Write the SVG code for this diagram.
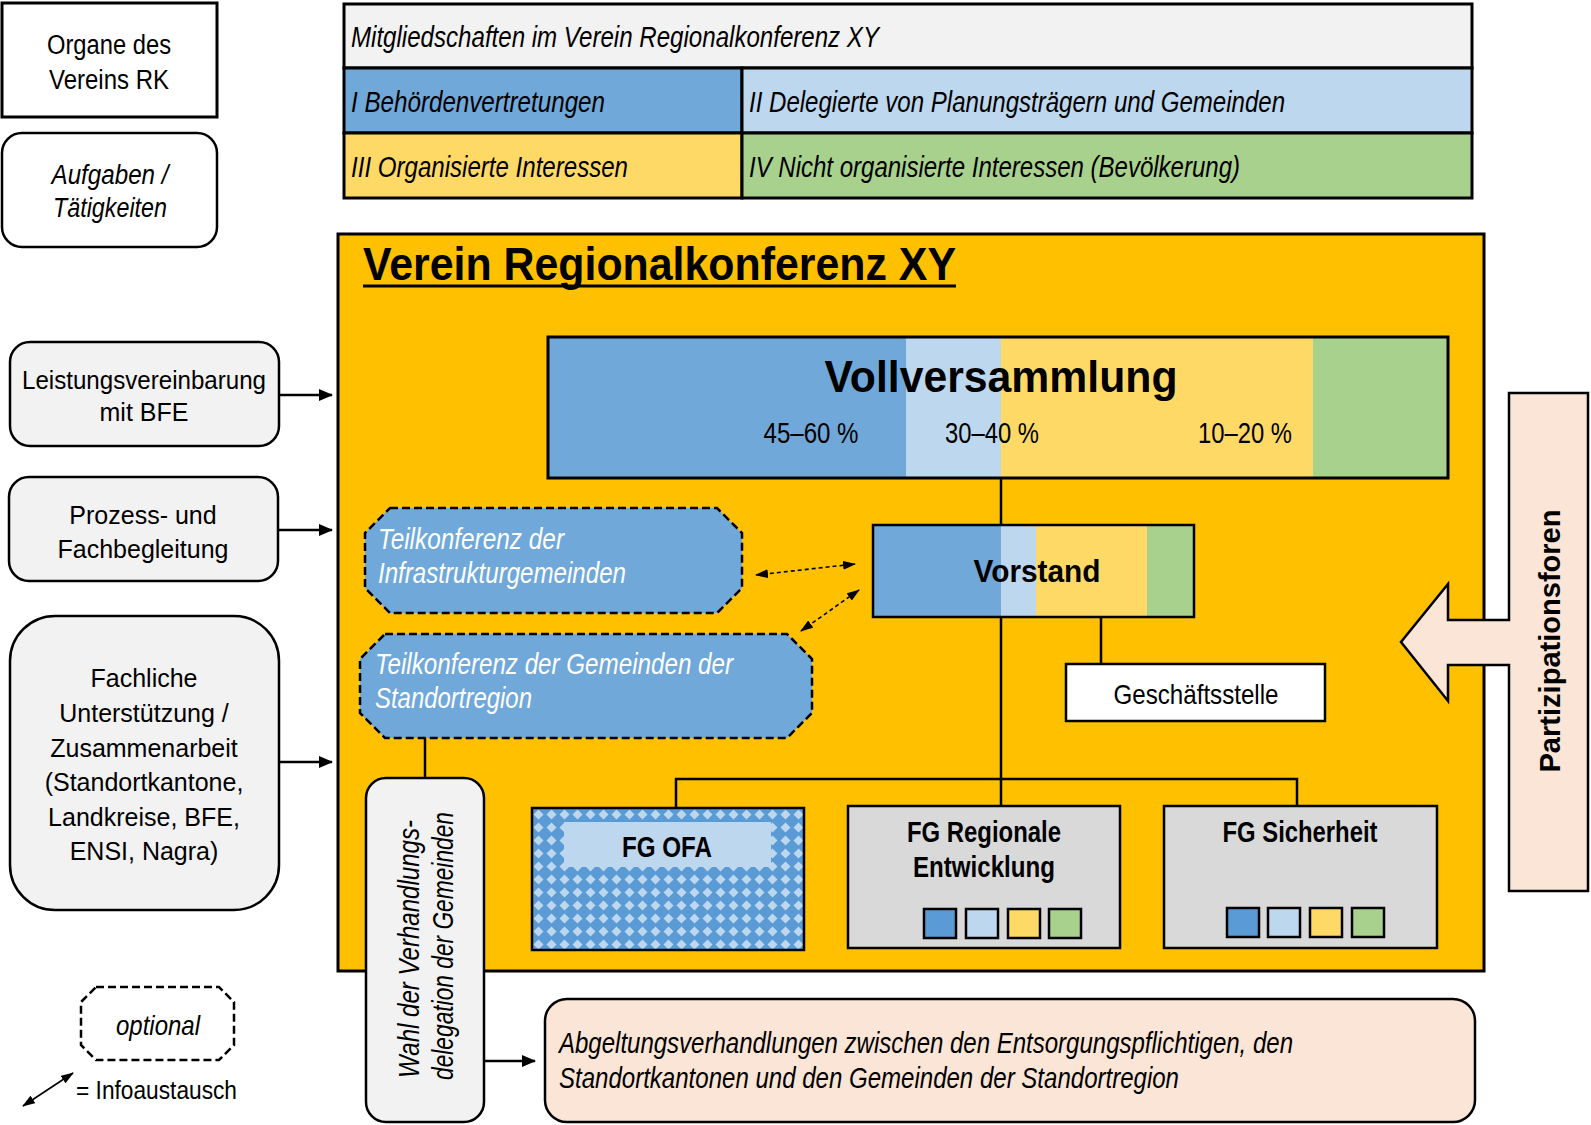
<svg xmlns="http://www.w3.org/2000/svg" width="1591" height="1125" viewBox="0 0 1591 1125">
<style>
.n{font-family:"Liberation Sans Narrow","Liberation Sans",Arial,sans-serif}
.s{font-family:"Liberation Sans",Arial,sans-serif}
.i{font-style:italic}
.b{font-weight:bold}
.bx{stroke:#000;stroke-width:2.5}
.tb{stroke:#000;stroke-width:3}
.ln{stroke:#000;stroke-width:2.5;fill:none}
.dl{stroke:#000;stroke-width:1.6;fill:none;stroke-dasharray:4 3}
.dash{stroke:#000;stroke-width:2.5;stroke-dasharray:8 4}
.c{text-anchor:middle}
</style>
<defs>
<marker id="ah" viewBox="0 0 14 12" refX="13" refY="6" markerWidth="14" markerHeight="12" markerUnits="userSpaceOnUse" orient="auto"><path d="M0,0 L14,6 L0,12 z" fill="#000"/></marker>
<marker id="ah2" viewBox="0 0 13 9" refX="12" refY="4.5" markerWidth="13" markerHeight="9" markerUnits="userSpaceOnUse" orient="auto-start-reverse"><path d="M0,0 L13,4.5 L0,9 z" fill="#000"/></marker>
<pattern id="dia" width="13" height="13" patternUnits="userSpaceOnUse" x="532" y="808"><rect width="13" height="13" fill="#5B9BD5"/><path d="M6.5,1.5 L11.5,6.5 L6.5,11.5 L1.5,6.5 z" fill="#BDD7EE"/></pattern>
</defs>
<rect width="1591" height="1125" fill="#fff"/>

<g id="legend-organe">
<rect x="2" y="3" width="215" height="114" fill="#fff" class="tb"/>
<text x="109" y="54" class="n c" font-size="27" textLength="124" lengthAdjust="spacingAndGlyphs">Organe des</text>
<text x="109" y="89" class="n c" font-size="27" textLength="120" lengthAdjust="spacingAndGlyphs">Vereins RK</text>
</g>
<g id="legend-aufgaben">
<rect x="2" y="133" width="215" height="114" rx="20" fill="#fff" class="bx"/>
<text x="110" y="184" class="n i c" font-size="27" textLength="117" lengthAdjust="spacingAndGlyphs">Aufgaben /</text>
<text x="110" y="217" class="n i c" font-size="27" textLength="114" lengthAdjust="spacingAndGlyphs">Tätigkeiten</text>
</g>

<g id="mitgliedschaften">
<rect x="344" y="4" width="1128" height="64" fill="#F2F2F2" class="tb"/>
<rect x="344" y="68" width="398" height="65" fill="#70A8DA" class="tb"/>
<rect x="742" y="68" width="730" height="65" fill="#BDD7EE" class="tb"/>
<rect x="344" y="133" width="398" height="65" fill="#FFD966" class="tb"/>
<rect x="742" y="133" width="730" height="65" fill="#A9D18E" class="tb"/>
<text x="351" y="47" class="n i" font-size="29" textLength="528" lengthAdjust="spacingAndGlyphs">Mitgliedschaften im Verein Regionalkonferenz XY</text>
<text x="351" y="112" class="n i" font-size="29" textLength="254" lengthAdjust="spacingAndGlyphs">I Behördenvertretungen</text>
<text x="749" y="112" class="n i" font-size="29" textLength="536" lengthAdjust="spacingAndGlyphs">II Delegierte von Planungsträgern und Gemeinden</text>
<text x="351" y="177" class="n i" font-size="29" textLength="277" lengthAdjust="spacingAndGlyphs">III Organisierte Interessen</text>
<text x="749" y="177" class="n i" font-size="29" textLength="491" lengthAdjust="spacingAndGlyphs">IV Nicht organisierte Interessen (Bevölkerung)</text>
</g>

<g id="verein">
<rect x="338" y="234" width="1146" height="737" fill="#FFC000" class="tb"/>
<text x="363" y="280" class="n b" font-size="46" textLength="593" lengthAdjust="spacingAndGlyphs">Verein Regionalkonferenz XY</text>
<line x1="363" y1="286" x2="956" y2="286" stroke="#000" stroke-width="3"/>
</g>

<g id="connectors">
<line x1="1001" y1="478" x2="1001" y2="525" class="ln"/>
<line x1="1001" y1="617" x2="1001" y2="806" class="ln"/>
<polyline points="676,808 676,779 1297,779 1297,806" class="ln"/>
<line x1="1101" y1="617" x2="1101" y2="664" class="ln"/>
<line x1="425" y1="738" x2="425" y2="778" class="ln"/>
<line x1="279" y1="395" x2="332" y2="395" class="ln" marker-end="url(#ah)"/>
<line x1="278" y1="530" x2="332" y2="530" class="ln" marker-end="url(#ah)"/>
<line x1="279" y1="762" x2="332" y2="762" class="ln" marker-end="url(#ah)"/>
<line x1="484" y1="1061" x2="535" y2="1061" class="ln" marker-end="url(#ah)"/>
<line x1="756" y1="575" x2="855" y2="564" class="dl" marker-start="url(#ah2)" marker-end="url(#ah2)"/>
<line x1="801" y1="631" x2="859" y2="590" class="dl" marker-start="url(#ah2)" marker-end="url(#ah2)"/>
<line x1="23" y1="1106" x2="73" y2="1073" stroke="#000" stroke-width="1.6" marker-start="url(#ah2)" marker-end="url(#ah2)"/>
</g>

<g id="vollversammlung">
<rect x="548" y="337" width="358" height="141" fill="#70A8DA"/>
<rect x="906" y="337" width="95" height="141" fill="#BDD7EE"/>
<rect x="1001" y="337" width="312" height="141" fill="#FFD966"/>
<rect x="1313" y="337" width="135" height="141" fill="#A9D18E"/>
<rect x="548" y="337" width="900" height="141" fill="none" class="tb"/>
<text x="1001" y="392" class="s b c" font-size="45" textLength="353" lengthAdjust="spacingAndGlyphs">Vollversammlung</text>
<text x="811" y="443" class="n c" font-size="29" textLength="95" lengthAdjust="spacingAndGlyphs">45–60 %</text>
<text x="992" y="443" class="n c" font-size="29" textLength="94" lengthAdjust="spacingAndGlyphs">30–40 %</text>
<text x="1245" y="443" class="n c" font-size="29" textLength="94" lengthAdjust="spacingAndGlyphs">10–20 %</text>
</g>

<g id="vorstand">
<rect x="873" y="525" width="128" height="92" fill="#70A8DA"/>
<rect x="1001" y="525" width="35" height="92" fill="#BDD7EE"/>
<rect x="1036" y="525" width="111" height="92" fill="#FFD966"/>
<rect x="1147" y="525" width="47" height="92" fill="#A9D18E"/>
<rect x="873" y="525" width="321" height="92" fill="none" class="bx"/>
<text x="1037" y="582" class="s b c" font-size="31" textLength="127" lengthAdjust="spacingAndGlyphs">Vorstand</text>
</g>

<g id="geschaeftsstelle">
<rect x="1066" y="664" width="259" height="57" fill="#fff" class="bx"/>
<text x="1196" y="704" class="n c" font-size="28" textLength="165" lengthAdjust="spacingAndGlyphs">Geschäftsstelle</text>
</g>

<g id="tk-infrastruktur">
<polygon points="390,508 717,508 742,533 742,588 717,613 390,613 365,588 365,533" fill="#70A8DA" class="dash"/>
<text x="378" y="549" class="n i" font-size="29" fill="#fff" textLength="186" lengthAdjust="spacingAndGlyphs">Teilkonferenz der</text>
<text x="378" y="583" class="n i" font-size="29" fill="#fff" textLength="248" lengthAdjust="spacingAndGlyphs">Infrastrukturgemeinden</text>
</g>

<g id="tk-standortregion">
<polygon points="385,634 787,634 812,659 812,713 787,738 385,738 360,713 360,659" fill="#70A8DA" class="dash"/>
<text x="375" y="674" class="n i" font-size="29" fill="#fff" textLength="358" lengthAdjust="spacingAndGlyphs">Teilkonferenz der Gemeinden der</text>
<text x="375" y="708" class="n i" font-size="29" fill="#fff" textLength="157" lengthAdjust="spacingAndGlyphs">Standortregion</text>
</g>

<g id="fg-ofa">
<rect x="532" y="808" width="272" height="142" fill="url(#dia)" class="bx"/>
<rect x="564" y="822" width="207" height="45" fill="#BDD7EE"/>
<text x="667" y="857" class="n b c" font-size="29" textLength="90" lengthAdjust="spacingAndGlyphs">FG OFA</text>
</g>

<g id="fg-regionale">
<rect x="848" y="806" width="272" height="142" fill="#D9D9D9" class="bx"/>
<text x="984" y="842" class="n b c" font-size="29" textLength="154" lengthAdjust="spacingAndGlyphs">FG Regionale</text>
<text x="984" y="877" class="n b c" font-size="29" textLength="142" lengthAdjust="spacingAndGlyphs">Entwicklung</text>
<rect x="924" y="909" width="32" height="29" fill="#5B9BD5" class="bx"/>
<rect x="966" y="909" width="32" height="29" fill="#BDD7EE" class="bx"/>
<rect x="1008" y="909" width="32" height="29" fill="#FFD966" class="bx"/>
<rect x="1049" y="909" width="32" height="29" fill="#A9D18E" class="bx"/>
</g>

<g id="fg-sicherheit">
<rect x="1164" y="806" width="273" height="142" fill="#D9D9D9" class="bx"/>
<text x="1300" y="842" class="n b c" font-size="29" textLength="155" lengthAdjust="spacingAndGlyphs">FG Sicherheit</text>
<rect x="1227" y="908" width="32" height="29" fill="#5B9BD5" class="bx"/>
<rect x="1268" y="908" width="32" height="29" fill="#BDD7EE" class="bx"/>
<rect x="1310" y="908" width="32" height="29" fill="#FFD966" class="bx"/>
<rect x="1352" y="908" width="32" height="29" fill="#A9D18E" class="bx"/>
</g>

<g id="partizipationsforen">
<polygon points="1509,393 1588,393 1588,891 1509,891 1509,665 1448,665 1448,701 1401,642 1448,584 1448,620 1509,620" fill="#FBE5D6" class="bx"/>
<text transform="translate(1560,641) rotate(-90)" class="s b c" font-size="29" textLength="263" lengthAdjust="spacingAndGlyphs">Partizipationsforen</text>
</g>

<g id="leistungsvereinbarung">
<rect x="10" y="342" width="269" height="104" rx="20" fill="#F2F2F2" class="bx"/>
<text x="144" y="389" class="s c" font-size="25" textLength="244" lengthAdjust="spacingAndGlyphs">Leistungsvereinbarung</text>
<text x="144" y="421" class="s c" font-size="25">mit BFE</text>
</g>
<g id="prozessbegleitung">
<rect x="9" y="477" width="269" height="104" rx="20" fill="#F2F2F2" class="bx"/>
<text x="143" y="524" class="s c" font-size="25">Prozess- und</text>
<text x="143" y="558" class="s c" font-size="25">Fachbegleitung</text>
</g>
<g id="fachliche-unterstuetzung">
<rect x="10" y="616" width="269" height="294" rx="45" fill="#F2F2F2" class="bx"/>
<text x="144" y="687" class="s c" font-size="25">Fachliche</text>
<text x="144" y="722" class="s c" font-size="25">Unterstützung /</text>
<text x="144" y="757" class="s c" font-size="25">Zusammenarbeit</text>
<text x="144" y="791" class="s c" font-size="25">(Standortkantone,</text>
<text x="144" y="826" class="s c" font-size="25">Landkreise, BFE,</text>
<text x="144" y="860" class="s c" font-size="25">ENSI, Nagra)</text>
</g>

<g id="wahl">
<rect x="366" y="778" width="118" height="344" rx="20" fill="#F2F2F2" class="bx"/>
<text transform="translate(419,949) rotate(-90)" class="n i c" font-size="29" textLength="258" lengthAdjust="spacingAndGlyphs">Wahl der Verhandlungs-</text>
<text transform="translate(453,946) rotate(-90)" class="n i c" font-size="29" textLength="268" lengthAdjust="spacingAndGlyphs">delegation der Gemeinden</text>
</g>

<g id="abgeltung">
<rect x="545" y="999" width="930" height="123" rx="22" fill="#FBE5D6" class="bx"/>
<text x="559" y="1053" class="n i" font-size="29" textLength="734" lengthAdjust="spacingAndGlyphs">Abgeltungsverhandlungen zwischen den Entsorgungspflichtigen, den</text>
<text x="559" y="1088" class="n i" font-size="29" textLength="620" lengthAdjust="spacingAndGlyphs">Standortkantonen und den Gemeinden der Standortregion</text>
</g>

<g id="legend-optional">
<polygon points="96,987 219,987 234,1002 234,1045 219,1060 96,1060 81,1045 81,1002" fill="#fff" class="dash"/>
<text x="158" y="1035" class="n i c" font-size="28" textLength="84" lengthAdjust="spacingAndGlyphs">optional</text>
</g>
<g id="legend-info">
<text x="76" y="1099" class="n" font-size="26" textLength="161" lengthAdjust="spacingAndGlyphs">= Infoaustausch</text>
</g>
</svg>
